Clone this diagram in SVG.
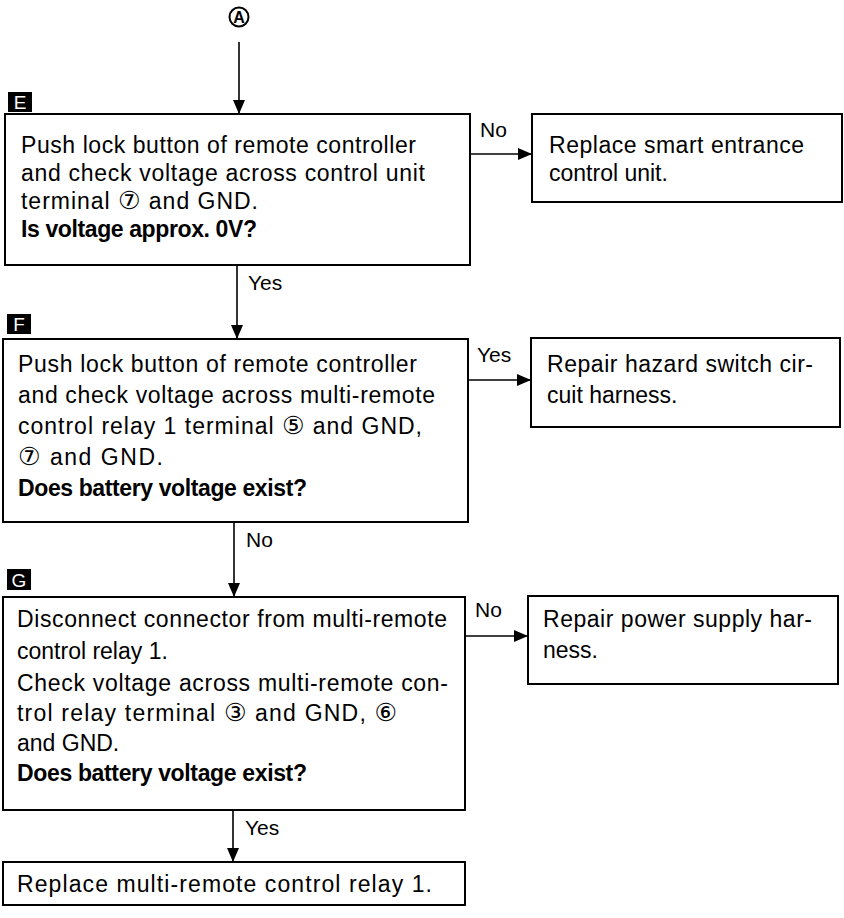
<svg xmlns="http://www.w3.org/2000/svg" width="844" height="918" viewBox="0 0 844 918">
<style>
.box{fill:#fff;stroke:#000;stroke-width:2}
.t{font-family:"Liberation Sans",Arial,sans-serif;font-size:23px;fill:#000}
.b{font-weight:bold}
.n{font-family:"DejaVu Sans","Noto Sans",sans-serif;font-size:25px}
.lbl{font-family:"Liberation Sans",Arial,sans-serif;font-size:21px;fill:#000}
.tag{fill:#000}
.tagt{font-family:"Liberation Sans",Arial,sans-serif;font-size:19px;fill:#fff;text-anchor:middle}
.c{stroke:#000;stroke-width:1.6;fill:none}
</style>
<defs>
<marker id="ah" markerWidth="14" markerHeight="12" refX="14" refY="6" orient="auto" markerUnits="userSpaceOnUse">
<path d="M0,0 L14,6 L0,12 Z" fill="#000"/>
</marker>
</defs>
<rect width="844" height="918" fill="#fff"/>

<g id="start">
<circle cx="239" cy="17" r="9.5" fill="#fff" stroke="#000" stroke-width="2"/>
<text x="239" y="23" class="t b" style="font-size:16px" text-anchor="middle">A</text>
</g>

<g id="connectors">
<line class="c" x1="239" y1="42" x2="239" y2="114" marker-end="url(#ah)"/>
<line class="c" x1="471" y1="154" x2="532" y2="154" marker-end="url(#ah)"/>
<line class="c" x1="237" y1="265" x2="237" y2="339" marker-end="url(#ah)"/>
<line class="c" x1="468" y1="380" x2="531" y2="380" marker-end="url(#ah)"/>
<line class="c" x1="234" y1="522" x2="234" y2="597" marker-end="url(#ah)"/>
<line class="c" x1="465" y1="636" x2="528" y2="636" marker-end="url(#ah)"/>
<line class="c" x1="233" y1="810" x2="233" y2="862" marker-end="url(#ah)"/>
<text class="lbl" x="480" y="137">No</text>
<text class="lbl" x="248" y="290">Yes</text>
<text class="lbl" x="477" y="362">Yes</text>
<text class="lbl" x="246" y="547">No</text>
<text class="lbl" x="475" y="617">No</text>
<text class="lbl" x="245" y="835">Yes</text>
</g>

<g id="nodeE">
<rect class="tag" x="8" y="92" width="24" height="20"/>
<text class="tagt" x="20" y="109">E</text>
<rect class="box" x="5" y="114" width="465" height="151"/>
<text class="t" x="21" y="153" textLength="395" lengthAdjust="spacing">Push lock button of remote controller</text>
<text class="t" x="21" y="181" textLength="404" lengthAdjust="spacing">and check voltage across control unit</text>
<text class="t" x="21" y="209" textLength="237" lengthAdjust="spacing">terminal <tspan class="n">⑦</tspan> and GND.</text>
<text class="t b" x="21" y="237" textLength="236" lengthAdjust="spacing">Is voltage approx. 0V?</text>
</g>

<g id="nodeR1">
<rect class="box" x="532" y="114" width="310" height="88"/>
<text class="t" x="549" y="153" textLength="255" lengthAdjust="spacing">Replace smart entrance</text>
<text class="t" x="549" y="181">control unit.</text>
</g>

<g id="nodeF">
<rect class="tag" x="7" y="314" width="24" height="20"/>
<text class="tagt" x="19" y="331">F</text>
<rect class="box" x="3" y="339" width="465" height="183"/>
<text class="t" x="18" y="372" textLength="399" lengthAdjust="spacing">Push lock button of remote controller</text>
<text class="t" x="18" y="403" textLength="417" lengthAdjust="spacing">and check voltage across multi-remote</text>
<text class="t" x="18" y="434" textLength="404" lengthAdjust="spacing">control relay 1 terminal <tspan class="n">⑤</tspan> and GND,</text>
<text class="t" x="18" y="465" textLength="145" lengthAdjust="spacing"><tspan class="n">⑦</tspan> and GND.</text>
<text class="t b" x="18" y="496" textLength="289" lengthAdjust="spacing">Does battery voltage exist?</text>
</g>

<g id="nodeR2">
<rect class="box" x="531" y="338" width="309" height="89"/>
<text class="t" x="547" y="372" textLength="266" lengthAdjust="spacing">Repair hazard switch cir-</text>
<text class="t" x="547" y="403">cuit harness.</text>
</g>

<g id="nodeG">
<rect class="tag" x="7" y="569" width="24" height="21"/>
<text class="tagt" x="19" y="587">G</text>
<rect class="box" x="3" y="597" width="462" height="213"/>
<text class="t" x="17" y="627" textLength="430" lengthAdjust="spacing">Disconnect connector from multi-remote</text>
<text class="t" x="17" y="659">control relay 1.</text>
<text class="t" x="17" y="691" textLength="431" lengthAdjust="spacing">Check voltage across multi-remote con-</text>
<text class="t" x="17" y="721" textLength="380" lengthAdjust="spacing">trol relay terminal <tspan class="n">③</tspan> and GND, <tspan class="n">⑥</tspan></text>
<text class="t" x="17" y="751">and GND.</text>
<text class="t b" x="17" y="781" textLength="290" lengthAdjust="spacing">Does battery voltage exist?</text>
</g>

<g id="nodeR3">
<rect class="box" x="528" y="596" width="310" height="88"/>
<text class="t" x="543" y="627" textLength="269" lengthAdjust="spacing">Repair power supply har-</text>
<text class="t" x="543" y="658">ness.</text>
</g>

<g id="nodeEnd">
<rect class="box" x="3" y="862" width="462" height="43"/>
<text class="t" x="17" y="892" textLength="415" lengthAdjust="spacing">Replace multi-remote control relay 1.</text>
</g>
</svg>
